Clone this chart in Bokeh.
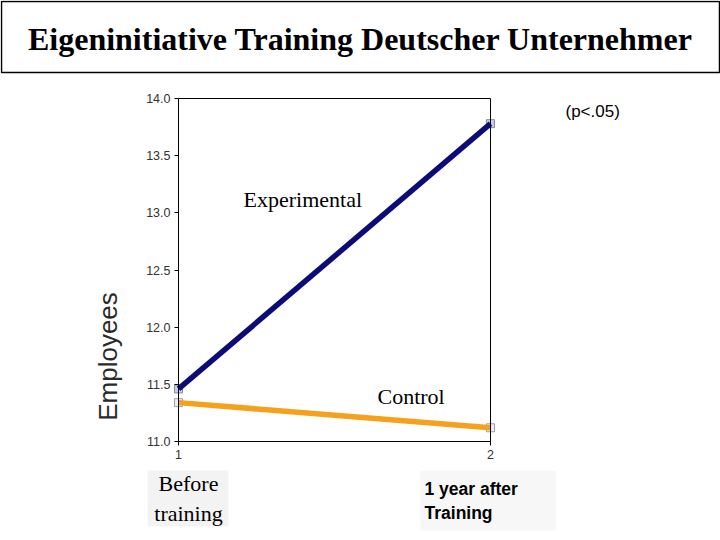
from bokeh.plotting import figure
from bokeh.models import (Range1d, FixedTicker, Label, LinearAxis,
                          NumeralTickFormatter, BoxAnnotation)
from bokeh.embed import file_html
from bokeh.resources import INLINE

# Measurement points and mean employee counts per group
sessions = [1, 2]
session_labels = ["1", "2"]
experimental = [11.46, 13.78]
control = [11.34, 11.12]
y_ticks = [11.0, 11.5, 12.0, 12.5, 13.0, 13.5, 14.0]

title_text = "Eigeninitiative Training Deutscher Unternehmer"

W, H = 720, 540
# pixel box of the plotting area on the page
BOX_L, BOX_R, BOX_T, BOX_B = 178, 490, 98, 441
X0, X1 = 1, 2
Y0, Y1 = 11, 14

sx = (BOX_R - BOX_L) / (X1 - X0)
sy = (BOX_B - BOX_T) / (Y1 - Y0)
x_range = Range1d(X0 - BOX_L / sx, X1 + (W - BOX_R) / sx)
y_range = Range1d(Y0 - (H - BOX_B) / sy, Y1 + BOX_T / sy)

p = figure(width=W, height=H, toolbar_location=None, output_backend="svg",
           x_range=x_range, y_range=y_range,
           x_axis_location=None, y_axis_location=None,
           min_border=0, min_border_left=0, min_border_right=0,
           min_border_top=0, min_border_bottom=0)
p.grid.visible = False
p.outline_line_color = None
p.background_fill_color = "white"
p.border_fill_color = "white"


def style_axis(ax, ticks=True):
    ax.axis_line_color = "black"
    ax.axis_line_width = 1
    ax.minor_tick_line_color = None
    if ticks:
        ax.major_tick_line_color = "black"
        ax.major_tick_out = 4
        ax.major_tick_in = 0
        ax.major_label_text_font = "Liberation Sans"
        ax.major_label_text_font_size = "12.5px"
        ax.major_label_text_color = "#333333"
        ax.major_label_standoff = 4
    else:
        ax.major_tick_line_color = None
        ax.major_label_text_font_size = "0px"
        ax.ticker = FixedTicker(ticks=[])


# value axis
yax = LinearAxis(fixed_location=X0, bounds=(Y0, Y1),
                 ticker=FixedTicker(ticks=y_ticks),
                 formatter=NumeralTickFormatter(format="0.0"))
style_axis(yax)
p.add_layout(yax, "left")

# measurement axis
xax = LinearAxis(fixed_location=Y0, bounds=(X0, X1),
                 ticker=FixedTicker(ticks=sessions))
style_axis(xax)
xax.major_label_overrides = {s: lab for s, lab in zip(sessions, session_labels)}
p.add_layout(xax, "below")

# closing lines of the plot box
top_ax = LinearAxis(fixed_location=Y1, bounds=(X0, X1))
style_axis(top_ax, ticks=False)
p.add_layout(top_ax, "above")
right_ax = LinearAxis(fixed_location=X1, bounds=(Y0, Y1))
style_axis(right_ax, ticks=False)
p.add_layout(right_ax, "right")


def sc(cx, cy):
    """page pixel -> screen units measured from the bottom-left corner"""
    return cx, H - cy


# title banner
p.add_layout(BoxAnnotation(left=1, right=W - 1, top=H - 1, bottom=H - 72,
                           left_units="screen", right_units="screen",
                           top_units="screen", bottom_units="screen",
                           fill_color=None, line_color="black",
                           line_alpha=1, line_width=1.5))
tx, ty = sc(360, 38)
p.add_layout(Label(x=tx, y=ty, x_units="screen", y_units="screen",
                   text=title_text, text_font="Liberation Serif",
                   text_font_style="bold", text_font_size="32px",
                   text_align="center", text_baseline="middle",
                   text_color="black"))

# shaded boxes behind the time-point captions
p.add_layout(BoxAnnotation(left=147, right=228, top=H - 470, bottom=H - 526,
                           left_units="screen", right_units="screen",
                           top_units="screen", bottom_units="screen",
                           fill_color="#f3f3f3", fill_alpha=1, line_color=None))
p.add_layout(BoxAnnotation(left=420, right=555, top=H - 470, bottom=H - 530,
                           left_units="screen", right_units="screen",
                           top_units="screen", bottom_units="screen",
                           fill_color="#f7f7f7", fill_alpha=1, line_color=None))

# point markers beneath the lines
p.scatter(sessions, experimental, marker="square", size=8,
          fill_color="#c8cfe0", line_color="#8a8a9a")
p.scatter(sessions, control, marker="square", size=8,
          fill_color="#eeeeee", line_color="#a0a0a0")

p.line(sessions, experimental, line_color="#0c0c78", line_width=5.5)
p.line(sessions, control, line_color="#f5a11c", line_width=5.5)


def add_text(cx, cy, text, font, size, style="normal", align="left",
             color="black", angle=0, line_height=1.2):
    x, y = sc(cx, cy)
    p.add_layout(Label(x=x, y=y, x_units="screen", y_units="screen",
                       text=text, text_font=font, text_font_size=size,
                       text_font_style=style, text_align=align,
                       text_baseline="middle", text_color=color,
                       angle=angle, angle_units="deg",
                       text_line_height=line_height))


add_text(243, 199, "Experimental", "Liberation Serif", "22px")
add_text(377, 396, "Control", "Liberation Serif", "22px")
add_text(565, 111, "(p<.05)", "Liberation Sans", "17px")
add_text(107, 356, "Employees", "Liberation Sans", "26px", align="center",
         color="#2a2a2a", angle=90)
add_text(188, 498, "Before\ntraining", "Liberation Serif", "22px",
         align="center")
add_text(424, 500, "1 year after\nTraining", "Liberation Sans", "17.5px",
         style="bold")

open("out.html", "w").write(file_html(p, INLINE))
